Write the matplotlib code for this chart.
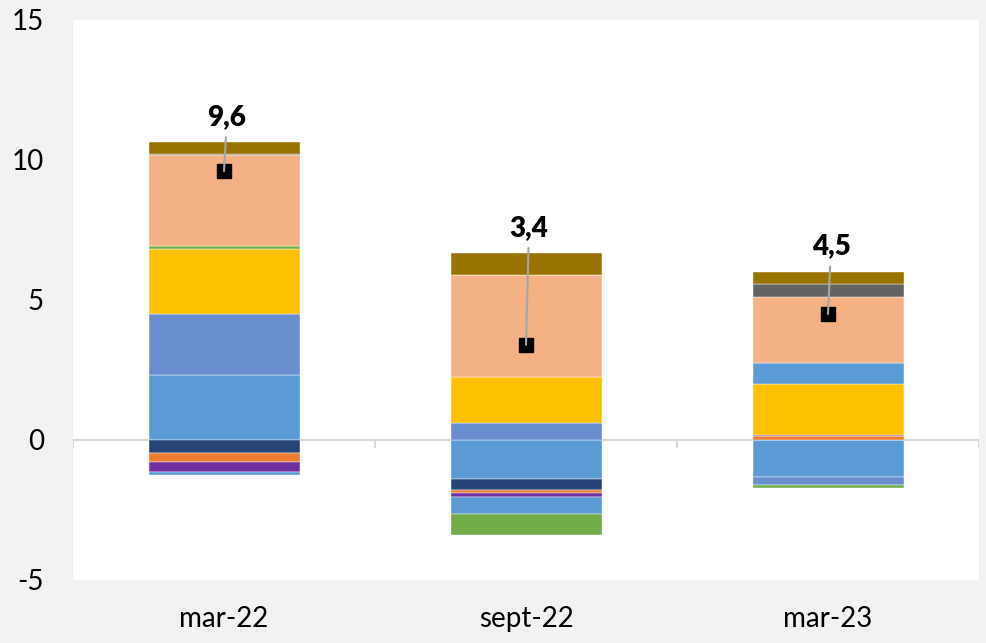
import numpy as np
import matplotlib.pyplot as plt

plt.rcParams['font.family'] = ['Lato', 'DejaVu Sans']

# ================= DATOS =================
categories = ['mar-22', 'sept-22', 'mar-23']
totals = [9.6, 3.4, 4.5]
total_labels = ['9,6', '3,4', '4,5']

# contribuciones por componente (orden de apilado)
comp_a = [2.32, -1.39, -1.33]   # azul claro
comp_b = [2.18, 0.61, -0.29]    # azul medio
comp_c = [-0.48, -0.40, 0.0]    # azul oscuro
comp_d = [-0.31, -0.09, 0.13]   # naranja
comp_e = [-0.36, -0.14, 0.06]   # morado
comp_f = [2.31, 1.63, 1.81]     # amarillo
comp_g = [-0.10, -0.63, 0.76]   # azul claro 2
comp_h = [0.12, -0.74, -0.09]   # verde
comp_i = [3.25, 3.65, 2.36]     # salmon
comp_j = [0.05, 0.0, 0.44]      # gris oscuro
comp_k = [0.40, 0.78, 0.45]     # oliva

series = [comp_a, comp_b, comp_c, comp_d, comp_e, comp_f,
          comp_g, comp_h, comp_i, comp_j, comp_k]
colors = ['#5B9BD5', '#698ED0', '#264478', '#ED7D31', '#7030A0', '#FFC000',
          '#5B9BD5', '#70AD47', '#F4B183', '#636363', '#997300']

# ================= GRAFICO =================
fig = plt.figure(figsize=(9.86, 6.43), dpi=100, facecolor='#F2F2F2')
ax = fig.add_axes([73 / 986, 63 / 643, 906 / 986, 560 / 643])
ax.set_facecolor('white')

x = np.arange(len(categories))
pos_base = np.zeros(len(categories))
neg_base = np.zeros(len(categories))
for vals, col in zip(series, colors):
    v = np.array(vals)
    bottom = np.where(v >= 0, pos_base, neg_base)
    ax.bar(x, v, width=0.5, bottom=bottom, color=col,
           edgecolor='white', linewidth=0.3, zorder=2)
    pos_base = pos_base + np.where(v >= 0, v, 0)
    neg_base = neg_base + np.where(v < 0, v, 0)

# eje horizontal en cero con marcas entre categorias
ax.axhline(0, color='#D9D9D9', linewidth=1.5, zorder=1)
ax.vlines([-0.5, 0.5, 1.5, 2.5], -0.28, 0, color='#D9D9D9', linewidth=1.5, zorder=1)

# total: marcador y etiqueta con linea guia
ax.plot(x, totals, linestyle='none', marker='s', markersize=10,
        color='black', zorder=4)
for i in range(len(categories)):
    ax.annotate(total_labels[i], xy=(x[i], totals[i]),
                xytext=(x[i] + 0.01, pos_base[i] + 0.9),
                ha='center', va='center', fontsize=20, fontweight='heavy',
                arrowprops=dict(arrowstyle='-', color='#A6A6A6', lw=1.5,
                                shrinkA=3, shrinkB=0),
                zorder=5)

ax.set_xlim(-0.5, 2.5)
ax.set_ylim(-5, 15)
ax.set_yticks([-5, 0, 5, 10, 15])
ax.set_yticklabels(['-5', '0', '5', '10', '15'])
ax.set_xticks(x)
ax.set_xticklabels(categories)
ax.tick_params(axis='both', length=0, labelsize=20)
ax.tick_params(axis='y', pad=21)
ax.tick_params(axis='x', pad=19)
for s in ax.spines.values():
    s.set_visible(False)

fig.savefig('out.png', dpi=100, facecolor=fig.get_facecolor())
